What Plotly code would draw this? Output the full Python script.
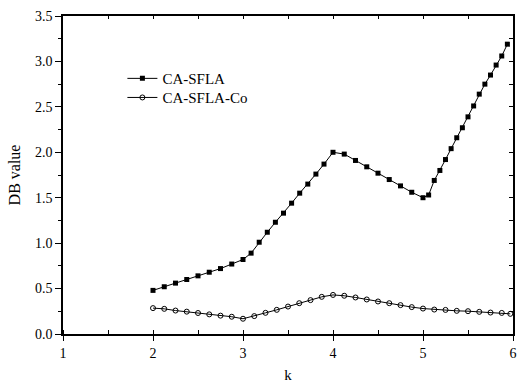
import plotly.graph_objects as go

# CA-SFLA series
k_sfla = [2.0, 2.125, 2.25, 2.375, 2.5, 2.625, 2.75, 2.875, 3.0,
          3.09, 3.18, 3.27, 3.36, 3.45, 3.54, 3.63, 3.72, 3.81, 3.9, 4.0,
          4.125, 4.25, 4.375, 4.5, 4.625, 4.75, 4.875, 5.0,
          5.0625, 5.125, 5.1875, 5.25, 5.3125, 5.375, 5.4375, 5.5, 5.5625,
          5.625, 5.6875, 5.75, 5.8125, 5.875, 5.9375]
db_sfla = [0.48, 0.52, 0.56, 0.60, 0.64, 0.68, 0.72, 0.77, 0.82,
           0.89, 1.01, 1.12, 1.23, 1.33, 1.44, 1.55, 1.65, 1.76, 1.87, 2.0,
           1.98, 1.91, 1.84, 1.77, 1.70, 1.63, 1.56, 1.50,
           1.53, 1.69, 1.80, 1.92, 2.04, 2.16, 2.27, 2.39, 2.51,
           2.64, 2.75, 2.85, 2.96, 3.06, 3.19]

# CA-SFLA-Co series
k_co = [2.0, 2.125, 2.25, 2.375, 2.5, 2.625, 2.75, 2.875, 3.0,
        3.125, 3.25, 3.375, 3.5, 3.625, 3.75, 3.875, 4.0,
        4.125, 4.25, 4.375, 4.5, 4.625, 4.75, 4.875, 5.0,
        5.125, 5.25, 5.375, 5.5, 5.625, 5.75, 5.875, 5.97]
db_co = [0.285, 0.277, 0.258, 0.246, 0.231, 0.216, 0.202, 0.19, 0.168,
         0.197, 0.233, 0.266, 0.302, 0.339, 0.373, 0.409, 0.43,
         0.421, 0.402, 0.38, 0.358, 0.339, 0.318, 0.296, 0.28,
         0.269, 0.265, 0.255, 0.251, 0.244, 0.236, 0.232, 0.222]

x_ticks = [1, 2, 3, 4, 5, 6]
y_ticks = [0.0, 0.5, 1.0, 1.5, 2.0, 2.5, 3.0, 3.5]

FONT = "Liberation Serif, Times New Roman, serif"

fig = go.Figure()
fig.add_trace(go.Scatter(
    x=k_sfla, y=db_sfla, name="CA-SFLA", mode="lines+markers",
    line=dict(color="black", width=1),
    marker=dict(symbol="square", size=5, color="black"),
    legend="legend",
))
fig.add_trace(go.Scatter(
    x=k_co, y=db_co, name="CA-SFLA-Co", mode="lines+markers",
    line=dict(color="black", width=1),
    marker=dict(symbol="circle-open", size=5, color="black", line=dict(width=1)),
    legend="legend2",
))
# frame axes (top/right) with inward ticks
fig.add_trace(go.Scatter(x=[], y=[], xaxis="x2", yaxis="y2", showlegend=False,
                         hoverinfo="skip"))

axis_common = dict(showgrid=False, zeroline=False, showline=True,
                   linecolor="black", linewidth=1.5, automargin=False)

legend_common = dict(xanchor="left", yanchor="top", bgcolor="rgba(0,0,0,0)",
                     font=dict(size=15), itemwidth=30)

fig.update_layout(
    width=517, height=383,
    margin=dict(l=63, r=4, t=16, b=49),
    paper_bgcolor="white", plot_bgcolor="white",
    font=dict(family=FONT, size=14, color="black"),
    xaxis=dict(range=[1, 6], tickvals=x_ticks, ticks="outside", ticklen=5,
               tickwidth=1, tickcolor="black",
               minor=dict(dtick=0.5, ticks="inside", ticklen=4, tickcolor="black"),
               title=dict(text="k", font=dict(size=15), standoff=16),
               **axis_common),
    yaxis=dict(range=[0, 3.5], tickvals=y_ticks, tickformat=".1f",
               ticks="outside", ticklen=6, tickwidth=1, tickcolor="black",
               minor=dict(dtick=0.25, ticks="outside", ticklen=3, tickcolor="black"),
               title=dict(text="DB value", font=dict(size=16), standoff=10),
               **axis_common),
    xaxis2=dict(range=[1, 6], overlaying="x", side="top", dtick=0.5,
                ticks="inside", ticklen=3, tickcolor="black",
                showticklabels=False, **axis_common),
    yaxis2=dict(range=[0, 3.5], overlaying="y", side="right", dtick=0.25,
                ticks="inside", ticklen=4, tickcolor="black",
                showticklabels=False, **axis_common),
    legend=dict(x=0.132, y=0.855, **legend_common),
    legend2=dict(x=0.132, y=0.795, **legend_common),
    showlegend=True,
)

fig.write_html("out.html")
